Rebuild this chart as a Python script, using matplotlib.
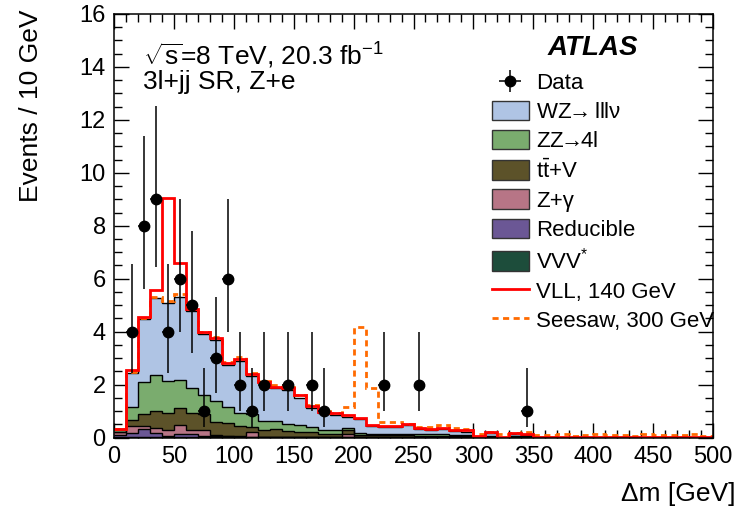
import numpy as np
import matplotlib
matplotlib.use("Agg")
import matplotlib.pyplot as plt
from matplotlib.patches import Patch
from matplotlib.lines import Line2D
from matplotlib.ticker import MultipleLocator

plt.rcParams['font.family'] = ['Liberation Sans', 'DejaVu Sans']
plt.rcParams['mathtext.fontset'] = 'custom'
plt.rcParams['mathtext.rm'] = 'Liberation Sans'
plt.rcParams['mathtext.it'] = 'Liberation Sans:italic'
plt.rcParams['mathtext.bf'] = 'Liberation Sans:bold'

# ---------------- data ----------------
bin_edges = np.arange(0, 510, 10)

vvv = [0.01, 0.02, 0.02, 0.02, 0.02, 0.02, 0.02, 0.02, 0.02, 0.02,
       0.02, 0.01, 0.01, 0.01, 0.01, 0.01, 0.01, 0.01, 0.01, 0.01,
       0.01, 0.01, 0.01, 0.01, 0.01, 0.01, 0.01, 0.01, 0.01, 0.01,
       0, 0, 0, 0, 0, 0, 0, 0, 0, 0, 0, 0, 0, 0, 0, 0, 0, 0, 0, 0]
reducible = [0.09, 0.16, 0.30, 0.16, 0.04, 0.11, 0.11, 0.04, 0.02, 0.02,
             0.01, 0.02, 0.01, 0.01, 0.01, 0.01, 0.01, 0.01, 0.01, 0.01,
             0, 0, 0, 0, 0, 0, 0, 0, 0, 0,
             0, 0, 0, 0, 0, 0, 0, 0, 0, 0, 0, 0, 0, 0, 0, 0, 0, 0, 0, 0]
zgamma = [0.10, 0.27, 0.13, 0.17, 0.22, 0.34, 0.17, 0.22, 0.05, 0.02,
          0.02, 0.17, 0.01, 0.01, 0.01, 0.01, 0.0, 0.0, 0.0, 0.10,
          0.01, 0.01, 0.01, 0.01, 0.01, 0.01, 0.01, 0.01, 0.01, 0.01,
          0, 0, 0, 0, 0, 0, 0, 0, 0, 0, 0, 0, 0, 0, 0, 0, 0, 0, 0, 0]
ttv = [0.02, 0.22, 0.45, 0.66, 0.63, 0.63, 0.62, 0.60, 0.51, 0.48,
       0.40, 0.18, 0.26, 0.28, 0.20, 0.19, 0.20, 0.10, 0.11, 0.16,
       0.08, 0.06, 0.06, 0.06, 0.06, 0.04, 0.04, 0.04, 0.03, 0.03,
       0.0, 0.03, 0.0, 0.02, 0.02, 0.01, 0, 0, 0, 0, 0, 0, 0, 0, 0, 0, 0, 0, 0, 0]
zz = [0.09, 0.48, 1.19, 1.34, 1.24, 1.08, 0.96, 0.74, 0.78, 0.61,
      0.46, 0.50, 0.33, 0.31, 0.29, 0.26, 0.19, 0.16, 0.15, 0.09,
      0.06, 0.06, 0.06, 0.06, 0.06, 0.07, 0.06, 0.06, 0.05, 0.05,
      0.01, 0.04, 0.0, 0.04, 0.03, 0.0, 0.01, 0, 0, 0, 0, 0, 0, 0, 0, 0, 0, 0, 0, 0]
wz = [0.0, 1.30, 2.38, 2.91, 2.92, 3.12, 2.90, 2.29, 2.31, 1.59,
      1.99, 1.45, 1.43, 1.24, 1.28, 1.00, 0.69, 0.64, 0.58, 0.41,
      0.54, 0.31, 0.27, 0.27, 0.33, 0.20, 0.16, 0.21, 0.15, 0.12,
      0.01, 0.10, 0.0, 0.08, 0.06, 0.0, 0.0, 0, 0, 0, 0, 0, 0, 0, 0, 0, 0, 0, 0, 0]

vll_signal = [0.0, 0.10, 0.10, 0.30, 3.98, 1.30, 0.07, 0.08, 0.07, 0.06,
              0.05, 0.07, 0.05, 0.04, 0.06, 0.12, 0.09, 0.06, 0.08, 0.07,
              0.05, 0.02, 0.04, 0.02, 0.03, 0.04, 0.05, 0.04, 0.05, 0.06,
              0.02, 0.02, 0.02, 0.02, 0.02, 0.02, 0.02, 0.02, 0.02, 0.02,
              0.02, 0.02, 0.02, 0.02, 0.02, 0.02, 0.02, 0.02, 0.02, 0.02]
seesaw_signal = [0.0, 0.03, 0.05, 0.06, 0.08, 0.12, 0.07, 0.07, 0.09, 0.11,
                 0.16, 0.12, 0.10, 0.12, 0.10, 0.12, 0.12, 0.08, 0.06, 0.36,
                 3.49, 1.43, 0.16, 0.16, 0.04, 0.08, 0.13, 0.13, 0.10, 0.10,
                 0.12, 0.05, 0.12, 0.04, 0.08, 0.10, 0.08, 0.12, 0.06, 0.10,
                 0.12, 0.08, 0.10, 0.06, 0.12, 0.10, 0.08, 0.10, 0.12, 0.06]

data_x = [15, 25, 35, 45, 55, 65, 75, 85, 95, 105, 115, 125, 145, 165, 175, 225, 255, 345]
data_n = [4, 8, 9, 4, 6, 5, 1, 3, 6, 2, 1, 2, 2, 2, 1, 2, 2, 1]

# ---------------- plot ----------------
fig = plt.figure(figsize=(7.48, 5.12), dpi=100)
ax = fig.add_axes([114 / 748, 1 - 437.5 / 512, 599 / 748, 423.5 / 512])

lab_wz = 'WZ$\\!\\!\\rightarrow\\!\\!$ lll\u03bd'
lab_zz = 'ZZ$\\!\\!\\rightarrow\\!\\!$4l'
lab_ttv = r'$\mathrm{t\bar{t}}$+V'
lab_zg = 'Z+\u03b3'
lab_red = 'Reducible'
lab_vvv = 'VVV$^{*}$'

components = [
    (vvv, '#1d4d3b', lab_vvv),
    (reducible, '#6b5795', lab_red),
    (zgamma, '#b77586', lab_zg),
    (ttv, '#5c5229', lab_ttv),
    (zz, '#7aac6e', lab_zz),
    (wz, '#afc4e4', lab_wz),
]

base = np.zeros(len(bin_edges) - 1)
handles = {}
for vals, col, lab in components:
    v = np.asarray(vals, dtype=float)
    top = base + v
    ax.stairs(top, bin_edges, baseline=base.copy(), fill=True, facecolor=col,
              edgecolor='none', zorder=1)
    ax.stairs(top, bin_edges, baseline=None, color='black', lw=1.0, zorder=1.2)
    handles[lab] = Patch(facecolor=col, edgecolor='#333333', lw=1.0)
    base = top
total = base

ax.stairs(total + np.asarray(seesaw_signal), bin_edges, baseline=None,
          color='#ff6a00', lw=2.0, linestyle=(0, (2.2, 1.6)), zorder=2)
ax.stairs(total + np.asarray(vll_signal), bin_edges, baseline=None,
          color='#ff0000', lw=2.0, zorder=2.1)

n = np.asarray(data_n, dtype=float)
err_up = 0.5 + np.sqrt(n + 0.25)
err_dn = -0.5 + np.sqrt(n + 0.25)
eb = ax.errorbar(data_x, n, yerr=[err_dn, err_up], xerr=5, fmt='o', color='black',
                 ms=7.5, elinewidth=1.1, capsize=0, zorder=3)

ax.set_xlim(0, 500)
ax.set_ylim(0, 16)
ax.set_axisbelow(True)
ax.xaxis.set_major_locator(MultipleLocator(50))
ax.xaxis.set_minor_locator(MultipleLocator(10))
ax.yaxis.set_major_locator(MultipleLocator(2))
ax.yaxis.set_minor_locator(MultipleLocator(0.5))
ax.tick_params(which='both', direction='in', top=True, right=True, labelsize=17, width=1.0)
ax.tick_params(which='major', length=11, pad=6)
ax.tick_params(which='minor', length=6)
for s in ax.spines.values():
    s.set_linewidth(1.1)

ax.set_xlabel('\u0394m [GeV]', fontsize=19, loc='right')
ax.xaxis.set_label_coords(1.037, -0.105)
ax.set_ylabel('Events / 10 GeV', fontsize=19, loc='top')
ax.yaxis.set_label_coords(-0.118, 1.01)

ax.text(0.048, 0.880, r'$\sqrt{\mathrm{s}}$=8 TeV, 20.3 fb$^{-1}$', transform=ax.transAxes,
        fontsize=19, va='baseline', ha='left')
ax.text(0.048, 0.823, '3l+jj SR, Z+e', transform=ax.transAxes,
        fontsize=19, va='baseline', ha='left')
ax.text(0.7245, 0.903, 'ATLAS', transform=ax.transAxes, fontsize=20,
        fontweight='bold', fontstyle='italic', va='baseline', ha='left')

leg_handles = [eb] + [handles[l] for l in [lab_wz, lab_zz, lab_ttv, lab_zg, lab_red, lab_vvv]]
leg_handles += [Line2D([], [], color='#ff0000', lw=2.0),
                Line2D([], [], color='#ff6a00', lw=2.0, linestyle=(0, (2.2, 1.6)))]
leg_labels = ['Data', lab_wz, lab_zz, lab_ttv, lab_zg, lab_red, lab_vvv,
              'VLL, 140 GeV', 'Seesaw, 300 GeV']
fig.legend(leg_handles, leg_labels, loc='upper left',
           bbox_to_anchor=(492 / 748, 1 - 72 / 512), frameon=False, fontsize=16,
           handlelength=1.65, handleheight=0.95, handletextpad=0.35, labelspacing=0.31,
           borderpad=0, borderaxespad=0)

fig.savefig('out.png', dpi=100)
